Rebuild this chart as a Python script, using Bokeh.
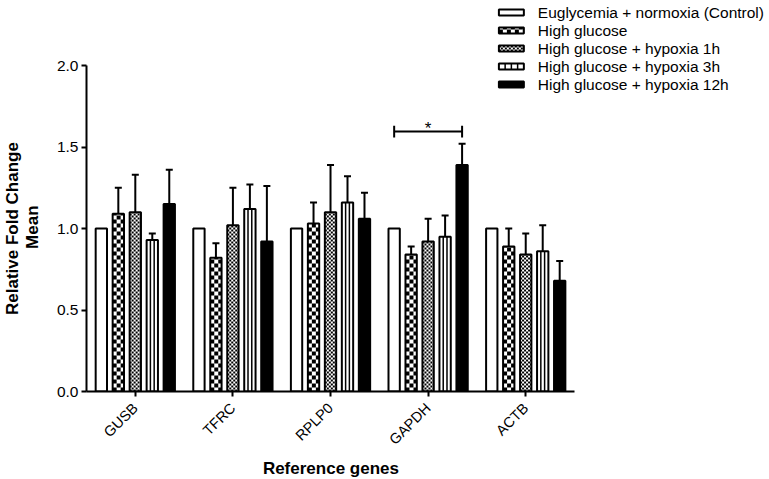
import math
from bokeh.plotting import figure
from bokeh.models import (ColumnDataSource, Whisker, TeeHead, FixedTicker,
                          Range1d, PrintfTickFormatter, Title)
from bokeh.core.properties import value
from bokeh.embed import file_html
from bokeh.resources import INLINE

# ---------------- data ----------------
genes = ["GUSB", "TFRC", "RPLP0", "GAPDH", "ACTB"]
series_names = [
    "Euglycemia + normoxia (Control)",
    "High glucose",
    "High glucose + hypoxia 1h",
    "High glucose + hypoxia 3h",
    "High glucose + hypoxia 12h",
]
control = [1.00, 1.00, 1.00, 1.00, 1.00]
high_glucose = [1.09, 0.82, 1.03, 0.84, 0.89]
hypoxia_1h = [1.10, 1.02, 1.10, 0.92, 0.84]
hypoxia_3h = [0.93, 1.12, 1.16, 0.95, 0.86]
hypoxia_12h = [1.15, 0.92, 1.06, 1.39, 0.68]

control_err = [0.0, 0.0, 0.0, 0.0, 0.0]
high_glucose_err = [0.16, 0.09, 0.13, 0.05, 0.11]
hypoxia_1h_err = [0.23, 0.23, 0.29, 0.14, 0.13]
hypoxia_3h_err = [0.04, 0.15, 0.16, 0.13, 0.16]
hypoxia_12h_err = [0.21, 0.34, 0.16, 0.13, 0.12]

y_ticks = [0.0, 0.5, 1.0, 1.5, 2.0]
x_title = "Reference genes"
y_title_lines = ["Relative Fold Change", "Mean"]

sig_gene = "GAPDH"
sig_from = 0
sig_to = 4
sig_level = 1.595
sig_text = "*"

means = [control, high_glucose, hypoxia_1h, hypoxia_3h, hypoxia_12h]
errors = [control_err, high_glucose_err, hypoxia_1h_err, hypoxia_3h_err, hypoxia_12h_err]

# ---------------- style / layout ----------------
FONT = "Liberation Sans"
FIG_W, FIG_H = 769, 479
FRAME_LEFT, FRAME_BOTTOM = 85, 391       # pixel position of the frame's left / bottom edges
px_per_cat = 97.75                       # pixels between categories
px_per_unit = 163.0                      # pixels per y unit
pitch = 0.174                            # bar spacing inside a group (category units)
bar_w = 0.116
y_axis_max = 2.0
# pattern per series: None, ("checker", cell px), ("vlines", columns)
patterns = [None, ("checker", 4), ("checker", 2), ("vlines", 3), None]
fills = ["white", "white", "white", "white", "black"]
legend_vlines = 4
LEG_ICON_X0, LEG_ICON_X1 = 498, 523
LEG_ROW0, LEG_PITCH, LEG_ICON_H = 12, 18, 6
LEG_TEXT_X = 537


def px_to_x(px):
    return -0.5 + (px - FRAME_LEFT) / px_per_cat


def px_to_y(py):
    return (FRAME_BOTTOM - py) / px_per_unit


x_end = px_to_x(FIG_W)
y_end = px_to_y(0)

p = figure(width=FIG_W, height=FIG_H, title=None,
           x_range=Range1d(-0.5, x_end), y_range=Range1d(0, y_end),
           output_backend="svg", toolbar_location=None,
           min_border=0, min_border_left=FRAME_LEFT, min_border_bottom=FIG_H - FRAME_BOTTOM,
           min_border_top=0, min_border_right=0)


def checker_cells(lefts, rights, bottoms, tops, cell_px):
    dx = cell_px / px_per_cat
    dy = cell_px / px_per_unit
    out = dict(left=[], right=[], bottom=[], top=[])
    for l, r, b, t in zip(lefts, rights, bottoms, tops):
        ncol = int(math.ceil((r - l) / dx - 1e-9))
        nrow = int(math.ceil((t - b) / dy - 1e-9))
        for ri in range(nrow):
            for ci in range(ncol):
                if (ri + ci) % 2 == 0:
                    out["left"].append(l + ci * dx)
                    out["right"].append(min(l + (ci + 1) * dx, r))
                    out["bottom"].append(b + ri * dy)
                    out["top"].append(min(b + (ri + 1) * dy, t))
    return out


def vline_segs(lefts, rights, bottoms, tops, ncols):
    out = dict(x0=[], y0=[], x1=[], y1=[])
    for l, r, b, t in zip(lefts, rights, bottoms, tops):
        for k in range(1, ncols):
            xx = l + (r - l) * k / ncols
            out["x0"].append(xx); out["x1"].append(xx)
            out["y0"].append(b); out["y1"].append(t)
    return out


def draw_pattern(pat, lefts, rights, bottoms, tops, ncols_override=None):
    if pat is None:
        return
    kind, arg = pat
    if kind == "checker":
        cells = checker_cells(lefts, rights, bottoms, tops, arg)
        p.quad(source=ColumnDataSource(cells), left="left", right="right",
               bottom="bottom", top="top", fill_color="black", line_color=None)
    elif kind == "vlines":
        segs = vline_segs(lefts, rights, bottoms, tops, ncols_override or arg)
        p.segment(source=ColumnDataSource(segs), x0="x0", y0="y0", x1="x1", y1="y1",
                  line_color="black", line_width=1.5)


n = len(series_names)
sources = []
for i in range(n):
    xs = [g + (i - (n - 1) / 2) * pitch for g in range(len(genes))]
    src = ColumnDataSource(dict(
        x=xs, top=means[i],
        upper=[m + e for m, e in zip(means[i], errors[i])],
        lower=means[i]))
    sources.append(src)
    p.vbar(x="x", top="top", bottom=0, width=bar_w, source=src,
           fill_color=fills[i], line_color=None)
    draw_pattern(patterns[i],
                 [x - bar_w / 2 for x in xs], [x + bar_w / 2 for x in xs],
                 [0.0] * len(xs), means[i])
    p.vbar(x="x", top="top", bottom=0, width=bar_w, source=src,
           fill_color=None, line_color="black", line_width=2)

for i in range(n):
    if any(e > 0 for e in errors[i]):
        p.add_layout(Whisker(base="x", upper="upper", lower="lower", source=sources[i],
                             line_color="black", line_width=2,
                             upper_head=TeeHead(size=7, line_width=2, line_color="black"),
                             lower_head=None))

# significance bracket
gx = genes.index(sig_gene)
x0 = gx + (sig_from - (n - 1) / 2) * pitch
x1 = gx + (sig_to - (n - 1) / 2) * pitch
d = 0.036
p.segment(x0=[x0], y0=[sig_level], x1=[x1], y1=[sig_level], line_color="black", line_width=2)
p.segment(x0=[x0, x1], y0=[sig_level - d] * 2, x1=[x0, x1], y1=[sig_level + d] * 2,
          line_color="black", line_width=2)
p.text(x=[gx], y=[sig_level], text=[sig_text], text_align="center",
       text_baseline="alphabetic", text_font=value(FONT), text_font_size="17px",
       text_color="black", y_offset=-3)

# legend (drawn with the same pattern helpers so the swatches match the bars)
for i in range(n):
    cy = LEG_ROW0 + i * LEG_PITCH
    l, r = px_to_x(LEG_ICON_X0), px_to_x(LEG_ICON_X1)
    b, t = px_to_y(cy + LEG_ICON_H / 2), px_to_y(cy - LEG_ICON_H / 2)
    p.quad(left=[l], right=[r], bottom=[b], top=[t], fill_color=fills[i], line_color=None)
    draw_pattern(patterns[i], [l], [r], [b], [t], ncols_override=legend_vlines)
    p.quad(left=[l], right=[r], bottom=[b], top=[t], fill_color=None,
           line_color="black", line_width=2)
p.text(x=[px_to_x(LEG_TEXT_X)] * n,
       y=[px_to_y(LEG_ROW0 + i * LEG_PITCH) for i in range(n)],
       text=series_names, text_align="left", text_baseline="middle",
       text_font=value(FONT), text_font_size="15.5px", text_color="black")

# axes
p.grid.visible = False
p.outline_line_color = None
for ax in (p.xaxis, p.yaxis):
    ax.axis_line_width = 2
    ax.axis_line_color = "black"
    ax.major_tick_line_width = 2
    ax.major_tick_line_color = "black"
    ax.major_tick_out = 5
    ax.major_tick_in = 0
    ax.minor_tick_line_color = None
    ax.major_label_text_font = FONT
    ax.major_label_text_color = "black"

p.xaxis.ticker = FixedTicker(ticks=list(range(len(genes))))
p.xaxis.major_label_overrides = {i: g for i, g in enumerate(genes)}
p.xaxis.major_label_orientation = math.pi / 4
p.xaxis.bounds = (-0.5, len(genes) - 0.5)
p.xaxis.major_label_standoff = 9
p.xaxis.major_label_text_font_size = "14.5px"

p.yaxis.ticker = FixedTicker(ticks=y_ticks)
p.yaxis.formatter = PrintfTickFormatter(format="%.1f")
p.yaxis.bounds = (0, y_axis_max)
p.yaxis.major_label_standoff = 3
p.yaxis.major_label_text_font_size = "15.5px"

# axis titles, centred on the drawn (bounded) axes
TITLE_PX = 17
title_style = dict(text_font=FONT, text_font_size=f"{TITLE_PX}px", text_font_style="bold",
                   text_color="black")
axis_center_y = y_axis_max / 2 * px_per_unit
axis_center_x = (len(genes) / 2) * px_per_cat
w_rel, w_mean, w_ref = 173.0, 43.5, 136.0
w_space = 0.278 * TITLE_PX
# second line padded (non-breaking spaces) so it is centred under the first one
pad = "\u00a0" * int(round((w_rel - w_mean) / 2 / w_space))
y_title = y_title_lines[0] + "\n" + pad + y_title_lines[1]
# small blank gap between the tick labels and the two-line y title
p.add_layout(Title(text=" ", text_font=FONT, text_font_size="1px", standoff=8), "left")
p.add_layout(Title(text=y_title, align="left", text_line_height=1.1,
                   offset=axis_center_y - w_rel / 2, standoff=0, **title_style), "left")
p.add_layout(Title(text=x_title, align="left",
                   offset=axis_center_x - w_ref / 2, standoff=0, **title_style), "below")

open("out.html", "w").write(file_html(p, INLINE))
